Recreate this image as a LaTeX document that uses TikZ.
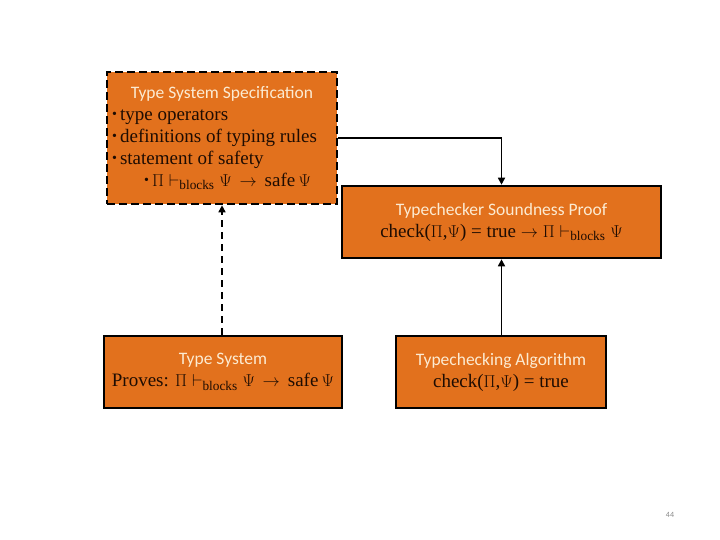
\documentclass[tikz,border=0pt]{standalone}
\usepackage{fontspec}
\setmainfont{Liberation Serif}
\setsansfont{Carlito}
\usepackage{tikz}
\usetikzlibrary{arrows.meta, positioning}
\definecolor{boxfill}{HTML}{E2711D}
\definecolor{boxink}{HTML}{1E0C02}
\definecolor{headink}{HTML}{FCEBD2}
\definecolor{pagenum}{HTML}{8A8A8A}
\tikzset{
  box/.style={rectangle, draw=black, line width=2.6pt, fill=boxfill,
              text=boxink, font=\fontsize{19}{22}\selectfont, align=center,
              inner sep=2pt},
  specbox/.style={box, dash pattern=on 8pt off 4pt},
  link/.style={-{Triangle[length=7pt,width=7pt]}, line width=1.6pt, draw=black},
  dashlink/.style={link, dash pattern=on 7pt off 5pt},
}
\newcommand{\boxhead}[1]{{\sffamily\fontsize{17.5}{20}\selectfont\color{headink}#1}}
\newcommand{\blk}{\vdash_{\mathrm{blocks}}}
\newcommand{\bul}{\raisebox{1.8pt}{\fontsize{14}{14}\selectfont\textbullet}\,}

\begin{document}
\begin{tikzpicture}[x=1pt, y=-1pt]
  \useasboundingbox[fill=white] (0,0) rectangle (720,540);

  \node[specbox, minimum width=230pt, minimum height=132pt, text width=220pt] (spec) at (222,138)
    {\spaceskip=0pt \xspaceskip=0pt
     {\centering\boxhead{Type System Specification}\par}
     \raggedright
     \bul type operators\\
     \bul definitions of typing rules\\
     \bul statement of safety\\
     \hspace*{32pt}\bul$\Pi\blk\Psi\,\rightarrow$\, safe\,$\Psi$\par};
  \node[box, minimum width=319pt, minimum height=72pt] (proof) at (501.5,222)
    {\boxhead{Typechecker Soundness Proof}\\
     check($\Pi$,$\Psi$) = true $\rightarrow$ $\Pi\blk\Psi$};
  \node[box, minimum width=238pt, minimum height=72pt] (tsys) at (223,372)
    {\boxhead{Type System}\\
     Proves: $\Pi\blk\Psi\,\rightarrow$\, safe\,$\Psi$};
  \node[box, minimum width=210pt, minimum height=72pt] (algo) at (501,372)
    {\boxhead{Typechecking Algorithm}\\
     check($\Pi$,$\Psi$) = true};

  \draw[link] (spec.east) -| (proof.north);
  \draw[link] (algo.north -| proof.south) -- (proof.south);
  \draw[dashlink] (spec.south |- tsys.north) -- (spec.south);

  \node[font=\sffamily\fontsize{8}{10}\selectfont, text=pagenum] (page) at (670,515) {44};
\end{tikzpicture}
\end{document}
